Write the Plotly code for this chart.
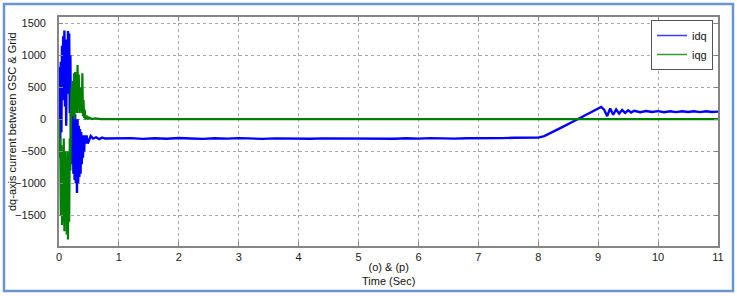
import plotly.graph_objects as go

# ---- data ----
t_idq = [0.00, 0.01, 0.02, 0.03, 0.04, 0.05, 0.06, 0.07, 0.08, 0.09,
         0.10, 0.11, 0.12, 0.13, 0.14, 0.15, 0.16, 0.17, 0.18, 0.19,
         0.20, 0.21, 0.22, 0.23, 0.24, 0.25, 0.26, 0.27, 0.28, 0.29,
         0.30, 0.31, 0.32, 0.33, 0.34, 0.35, 0.36, 0.37, 0.38, 0.39,
         0.40, 0.41, 0.42, 0.43, 0.44, 0.46, 0.48, 0.50, 0.53, 0.57,
         0.62, 0.67, 0.72, 0.77,
         1.0, 1.2, 1.4, 1.6, 1.8, 2.0, 2.2, 2.4, 2.6, 2.8, 3.0, 3.2, 3.4,
         3.6, 3.8, 4.0, 4.2, 4.4, 4.6, 4.8, 5.0, 5.2, 5.4, 5.6, 5.8, 6.0,
         6.2, 6.4, 6.6, 6.8, 7.0, 7.2, 7.4, 7.6, 7.8, 8.0,
         8.10, 8.20, 8.40, 8.60, 8.80, 9.00, 9.05, 9.10, 9.15, 9.20, 9.25,
         9.30, 9.35, 9.40, 9.45, 9.50, 9.55, 9.60, 9.70, 9.80, 9.90, 10.0,
         10.1, 10.2, 10.3, 10.4, 10.5, 10.6, 10.7, 10.8, 10.9, 11.0]
idq = [0, 820, -450, 900, -200, 1150, 300, 1300, 500, 1390,
       200, 1250, -100, 1200, 400, 1380, 600, 1340, 100, 1000,
       -500, 50, -700, 100, -850, 0, -950, 80, -1000, -50,
       -1150, 0, -1000, -100, -900, -150, -850, -200, -700, -250,
       -600, -300, -500, -250, -380, -250, -380, -330, -260, -300,
       -280, -310, -285, -300,
       -300, -293, -305, -296, -303, -291, -300, -306, -296, -302, -294,
       -300, -305, -297, -301, -294, -304, -298, -300, -293, -303, -296,
       -300, -304, -295, -301, -293, -299, -301, -295, -297, -290, -294,
       -287, -290, -285,
       -262, -218, -122, -25, 70, 172, 195, 150, 50, 170, 72,
       155, 90, 145, 100, 140, 106, 134, 112, 130, 114, 128,
       112, 127, 113, 126, 114, 127, 113, 126, 115, 120]

t_iqg = [0.00, 0.01, 0.02, 0.03, 0.04, 0.05, 0.06, 0.07, 0.08, 0.09,
         0.10, 0.11, 0.12, 0.13, 0.14, 0.15, 0.16, 0.17, 0.18, 0.19,
         0.20, 0.21, 0.22, 0.23, 0.24, 0.25, 0.26, 0.27, 0.28, 0.29,
         0.30, 0.31, 0.32, 0.33, 0.34, 0.35, 0.36, 0.37, 0.38, 0.39,
         0.40, 0.41, 0.42, 0.43, 0.44, 0.46, 0.48, 0.50, 0.55, 0.60,
         0.70, 0.80, 1.0, 2.0, 4.0, 6.0, 8.0, 10.0, 11.0]
iqg = [0, -600, -300, -1500, -400, -1650, -500, -1600, -300, -1750,
       -500, -1500, -600, -1800, -500, -1880, -700, -1600, -300, -800,
       100, 500, 50, 600, 100, 720, 0, 740, 150, 600,
       100, 850, 200, 700, 100, 500, 150, 400, 100, 720,
       50, 300, 20, 150, 0, 60, 0, 30, 5, 15,
       4, 6, 3, 3, 2, 2, 2, 2, 2]

x_ticks = [0, 1, 2, 3, 4, 5, 6, 7, 8, 9, 10, 11]
y_ticks = [-1500, -1000, -500, 0, 500, 1000, 1500]

# ---- figure ----
W, H = 737, 296
ML, MR, MT, MB = 59, 19, 17, 50
pw, ph = W - ML - MR, H - MT - MB


def px(x):
    return (x - ML) / pw


def py(y):
    return (H - MB - y) / ph


FONT = "Liberation Sans, Arial, sans-serif"
BLUE, GREEN = "#0000ff", "#008000"

fig = go.Figure()
fig.add_trace(go.Scatter(x=t_idq, y=idq, mode="lines", name="idq",
                         showlegend=False,
                         line=dict(color=BLUE, width=2.4)))
fig.add_trace(go.Scatter(x=t_iqg, y=iqg, mode="lines", name="iqg",
                         showlegend=False,
                         line=dict(color=GREEN, width=2.2)))
# legend entries (thin sample lines, as in the reference)
fig.add_trace(go.Scatter(x=[None], y=[None], mode="lines", name="idq",
                         line=dict(color="#3b3bff", width=1.5)))
fig.add_trace(go.Scatter(x=[None], y=[None], mode="lines", name="iqg",
                         line=dict(color="#2f9a2f", width=1.5)))

axis_common = dict(
    showline=True, linecolor="#858585", linewidth=1.6, mirror="allticks",
    ticks="inside", ticklen=4, tickcolor="#858585",
    showgrid=True, gridcolor="#a8a8a8", griddash="dot", gridwidth=1,
    zeroline=False, tickfont=dict(family=FONT, size=11, color="#1a1a1a"),
)

fig.update_layout(
    width=W, height=H,
    margin=dict(l=ML, r=MR, t=MT, b=MB),
    paper_bgcolor="white", plot_bgcolor="white",
    showlegend=True,
    legend=dict(x=px(713), y=py(20), xanchor="right", yanchor="top",
                bgcolor="white", bordercolor="#555555", borderwidth=1,
                font=dict(family=FONT, size=11, color="#111111"),
                tracegroupgap=0, itemwidth=30),
    xaxis=dict(range=[0, 11], tickvals=x_ticks, **axis_common),
    yaxis=dict(range=[-1980, 1600], tickvals=y_ticks, ticklabelstandoff=9,
               **axis_common),
)

# axis titles as annotations
fig.add_annotation(xref="paper", yref="paper", x=px(12), y=py(122),
                   xanchor="center", yanchor="middle",
                   text="dq-axis current between GSC & Grid", textangle=-90,
                   showarrow=False, font=dict(family=FONT, size=11, color="#111111"))
fig.add_annotation(xref="paper", yref="paper", x=px(388), y=py(274),
                   xanchor="center", yanchor="middle",
                   text="(o) & (p)<br>Time (Sec)", showarrow=False,
                   font=dict(family=FONT, size=11, color="#111111"))

# outer blue frame
fig.add_shape(type="rect", xref="paper", yref="paper",
              x0=px(4), x1=px(733), y0=py(291), y1=py(4),
              line=dict(color="#6b93cf", width=2.5), layer="below")

fig.write_html("out.html", config={"displayModeBar": False},
               post_script="document.body.style.margin='0';document.body.style.overflow='hidden';")
